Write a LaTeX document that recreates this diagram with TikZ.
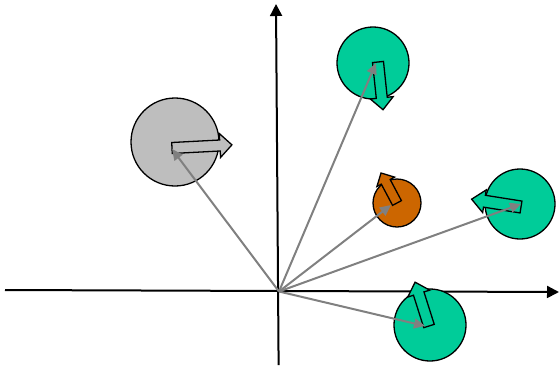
\documentclass[tikz,border=0pt]{standalone}
\usetikzlibrary{arrows.meta}
\definecolor{cgreen}{HTML}{00CC99}
\definecolor{cgray}{HTML}{BEBEBE}
\definecolor{corange}{HTML}{CC6600}
\definecolor{vgray}{HTML}{808080}
\tikzset{
  axis/.style={line width=2pt, -{Triangle[length=12pt,width=12pt]}},
  vec/.style={vgray, line width=2pt, -{Triangle[length=11pt,width=10pt]}},
  disc/.style={draw=black, line width=1.3pt},
  blk/.style={draw=black, line width=1.3pt, line join=miter},
}
% \blockarrow{fill}{cx}{cy}{angle}{L}{w}{h}{k}
\newcommand{\blockarrow}[8]{%
  \begin{scope}[shift={(#2,#3)}, rotate=#4]
    \filldraw[blk, fill=#1] (0,#6) -- ({#5-#8},#6) -- ({#5-#8},#7) -- (#5,0)
      -- ({#5-#8},-#7) -- ({#5-#8},-#6) -- (0,-#6) -- cycle;
  \end{scope}}
\begin{document}
\begin{tikzpicture}[x=1pt,y=-1pt]
\useasboundingbox (0,0) rectangle (559,365);
% axes
\coordinate (xl) at (5,290);
\coordinate (xr) at (559,292);
\coordinate (yb) at (278.6,365);
\coordinate (yt) at (276,4);
\coordinate (o) at (279,291.5);
\draw[axis] (xl) -- (xr);
\draw[axis] (yb) -- (yt);
% discs
\node[disc, circle, fill=cgray, minimum size=88pt, inner sep=0pt] (c1) at (175,142) {};
\node[disc, circle, fill=cgreen, minimum size=72pt, inner sep=0pt] (c2) at (373,63) {};
\node[disc, circle, fill=corange, minimum size=48pt, inner sep=0pt] (c3) at (397,203) {};
\node[disc, circle, fill=cgreen, minimum size=70pt, inner sep=0pt] (c4) at (520,204) {};
\node[disc, circle, fill=cgreen, minimum size=72pt, inner sep=0pt] (c5) at (430,325) {};
% block arrows
\blockarrow{cgray}{172}{148}{3}{60}{5.5}{12}{12}
\blockarrow{cgreen}{378}{62}{-84}{48}{5.5}{11.5}{12}
\blockarrow{corange}{397}{203}{118}{34}{5}{10}{10}
\blockarrow{cgreen}{521}{207}{171}{50}{6}{11.5}{13}
\blockarrow{cgreen}{429}{326}{107.6}{46}{5.5}{11.5}{12}
% vectors
\coordinate (t1) at (172,149);
\coordinate (t2) at (376,63);
\coordinate (t3) at (391,205);
\coordinate (t4) at (521,204);
\coordinate (t5) at (425,326);
\draw[vec] (o) -- (t1);
\draw[vec] (o) -- (t2);
\draw[vec] (o) -- (t3);
\draw[vec] (o) -- (t4);
\draw[vec] (o) -- (t5);
\end{tikzpicture}
\end{document}
